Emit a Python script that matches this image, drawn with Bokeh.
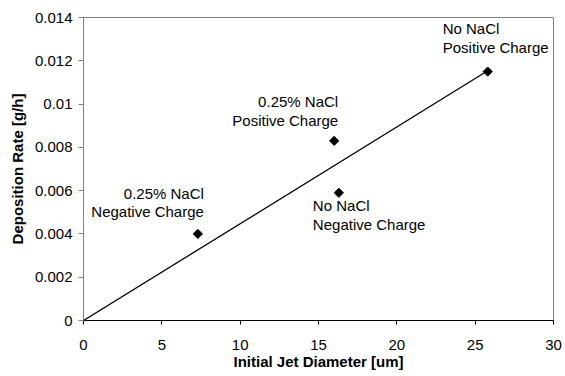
import numpy as np
from bokeh.plotting import figure
from bokeh.models import ColumnDataSource, Range1d, FixedTicker
from bokeh.core.properties import value
from bokeh.embed import file_html
from bokeh.resources import INLINE

# ---- data ----
jet_diameter = [7.3, 16.0, 16.3, 25.8]          # um
deposition_rate = [0.0040, 0.0083, 0.0059, 0.0115]  # g/h
point_labels = ["0.25% NaCl\nNegative Charge",
                "0.25% NaCl\nPositive Charge",
                "No NaCl\nNegative Charge",
                "No NaCl\nPositive Charge"]
x_ticks = [0, 5, 10, 15, 20, 25, 30]
y_ticks = [0, 0.002, 0.004, 0.006, 0.008, 0.010, 0.012, 0.014]
y_tick_labels = ["0", "0.002", "0.004", "0.006", "0.008", "0.01", "0.012", "0.014"]

# trendline through origin (least squares)
xa = np.array(jet_diameter)
ya = np.array(deposition_rate)
slope = float((xa * ya).sum() / (xa * xa).sum())
trend_x = [0, float(xa.max())]
trend_y = [0, slope * float(xa.max())]

# ---- label styling (screen offsets) ----
lab_align = ["right", "right", "left", "left"]
lab_dx = [6, 4, -26, -45]
lab_dy = [-31.5, -30, 22.5, -33.5]

FONT = "Liberation Sans"

p = figure(width=565, height=376, output_backend="svg", toolbar_location=None,
           x_range=Range1d(0, 30), y_range=Range1d(0, 0.014),
           min_border_left=83, min_border_right=12, min_border_top=17,
           min_border_bottom=56)
p.grid.visible = False
p.outline_line_color = "#808080"
p.outline_line_width = 1

p.line(trend_x, trend_y, line_color="black", line_width=1.3)

src = ColumnDataSource(dict(x=jet_diameter, y=deposition_rate, text=point_labels,
                            align=lab_align, dx=lab_dx, dy=lab_dy))
p.scatter("x", "y", source=src, marker="square", angle=np.pi / 4, size=6.5,
          fill_color="black", line_color="black")
p.text("x", "y", text="text", source=src, text_align="align", text_baseline="middle",
       x_offset="dx", y_offset="dy", text_font=value(FONT), text_font_size="15px",
       text_color="black", text_line_height=1.1)

# axes
p.xaxis.ticker = FixedTicker(ticks=x_ticks)
p.yaxis.ticker = FixedTicker(ticks=y_ticks)
p.yaxis.major_label_overrides = {t: l for t, l in zip(y_ticks, y_tick_labels)}

p.xaxis.axis_label = "Initial Jet Diameter [um]"
p.yaxis.axis_label = "Deposition Rate [g/h]"
for ax in (p.xaxis[0], p.yaxis[0]):
    ax.axis_label_text_font = FONT
    ax.axis_label_text_font_style = "bold"
    ax.axis_label_text_font_size = "15px"
    ax.axis_label_text_color = "black"
    ax.major_label_text_font = FONT
    ax.major_label_text_font_size = "15px"
    ax.major_label_text_color = "black"
    ax.minor_tick_line_color = None
    ax.major_tick_in = 0

p.xaxis.axis_line_color = "black"
p.xaxis.major_tick_line_color = "black"
p.xaxis.major_tick_out = 4
p.xaxis.major_label_standoff = 15
p.xaxis.axis_label_standoff = 0
p.yaxis.axis_line_color = "#808080"
p.yaxis.major_tick_line_color = "#808080"
p.yaxis.major_tick_out = 5
p.yaxis.major_label_standoff = 6
p.yaxis.axis_label_standoff = 6

open("out.html", "w").write(file_html(p, INLINE))
